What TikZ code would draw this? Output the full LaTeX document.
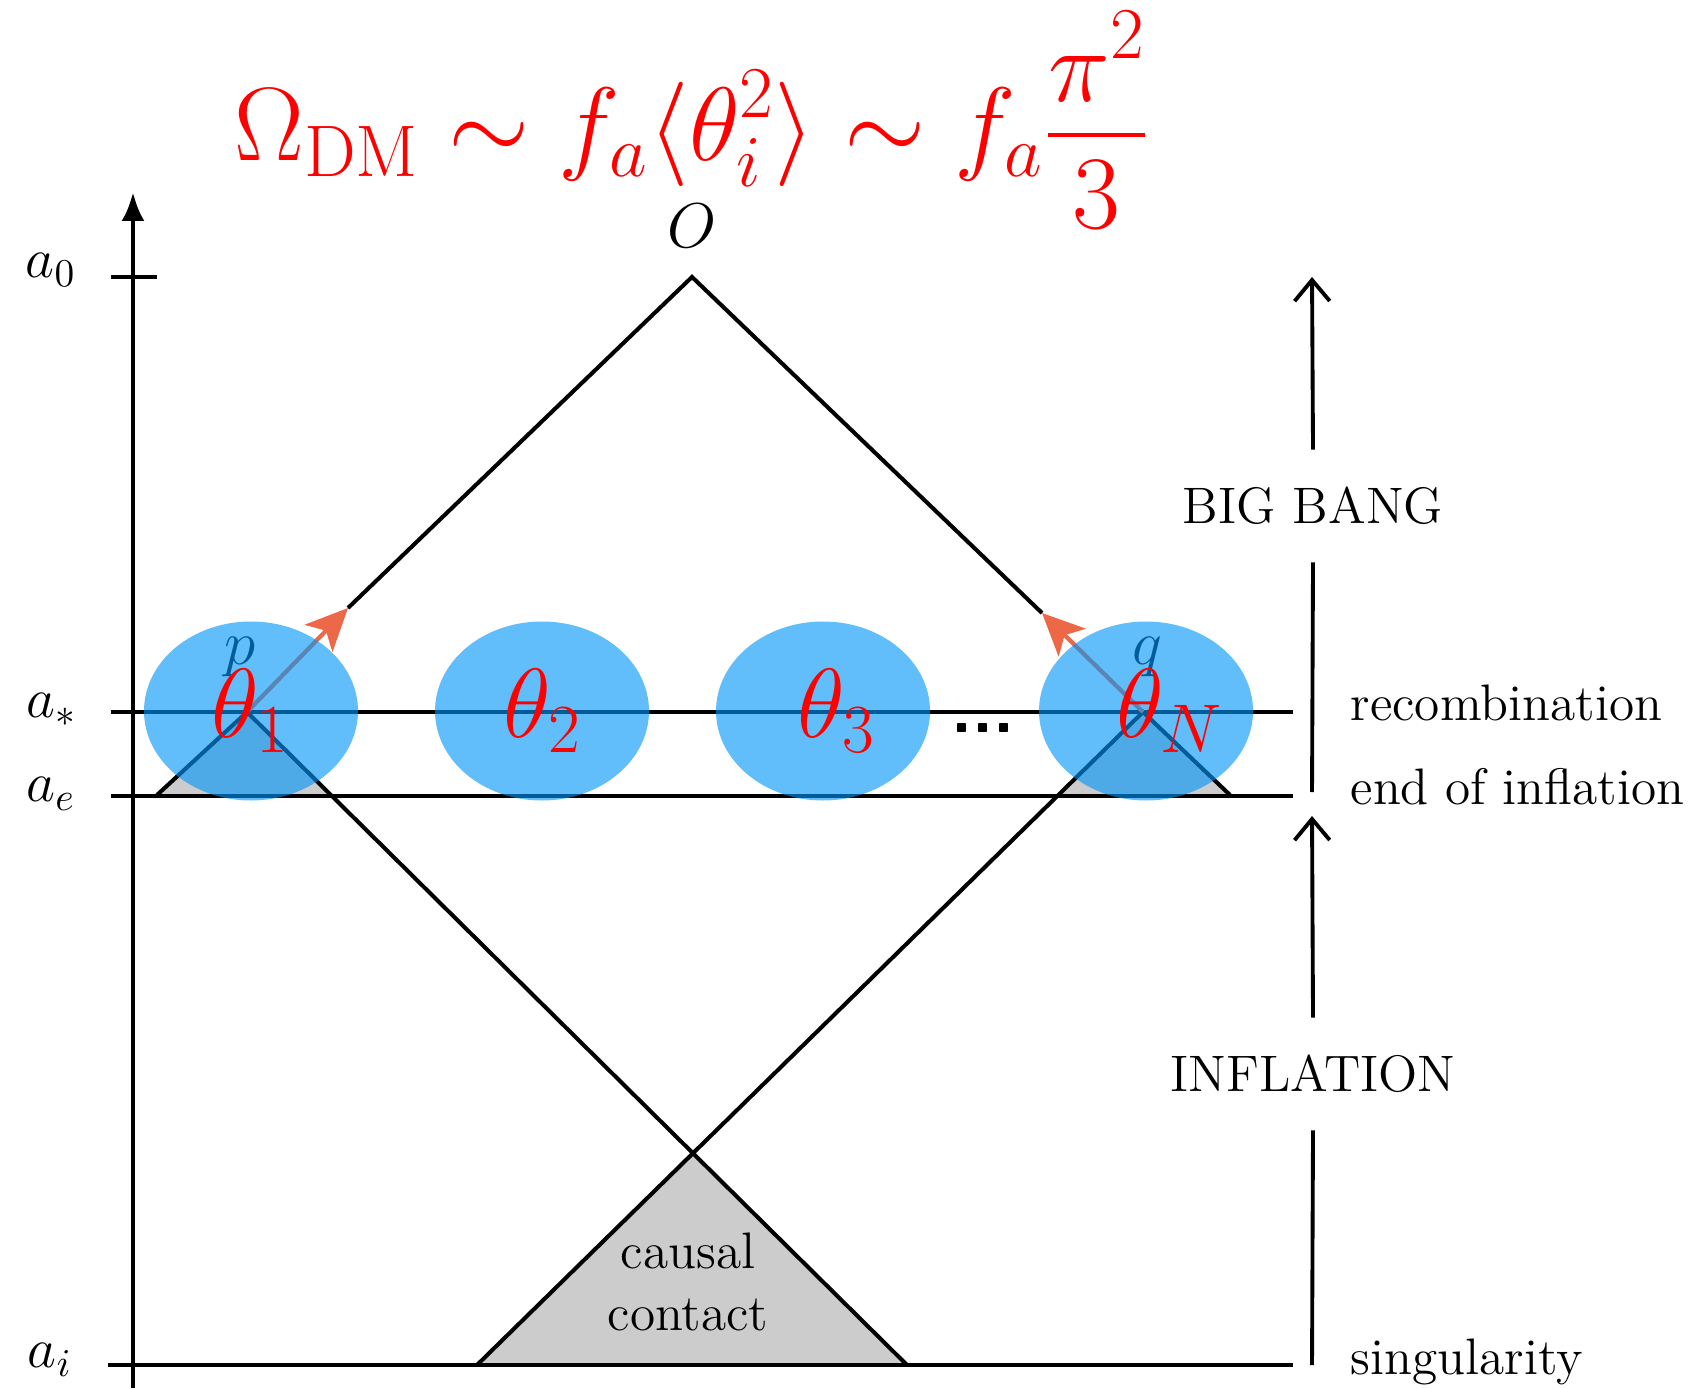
\RequirePackage{fix-cm}
\documentclass[tikz,border=0pt]{standalone}
\usepackage{exscale}
\usepackage{amsmath}
\usepackage{xcolor}
\usepackage{tikz}
\usetikzlibrary{arrows.meta,positioning,shapes.geometric}
\definecolor{patch}{RGB}{0,150,248}
\definecolor{photon}{RGB}{237,104,70}
\definecolor{conegray}{RGB}{204,204,204}

\begin{document}
\begin{tikzpicture}[x=0.1mm, y=-0.1mm,
  cone/.style={line width=1.15pt},
  level/.style={line width=1pt},
  axis/.style={line width=1.4pt},
  epoch/.style={line width=1.1pt},
  patchblob/.style={ellipse, fill=patch, fill opacity=0.62, minimum width=21.4mm, minimum height=17.9mm, inner sep=0pt},
  anglelabel/.style={text=red, font=\fontsize{28}{34}\selectfont},
  timelabel/.style={font=\fontsize{16}{19}\selectfont},
  eralabel/.style={font=\fontsize{14.6}{17}\selectfont, anchor=base west, inner sep=0pt},
  phase/.style={font=\fontsize{14.6}{17}\selectfont, inner xsep=2pt, inner ysep=10.5pt},
  photonarrow/.style={-{Stealth[length=12pt,width=11pt,inset=3pt]}, line width=1.2pt, draw=photon}
]
\useasboundingbox (0,0) rectangle (1694,1388);

% points of the diagram
\coordinate (O) at (692,277);
\coordinate (p) at (247,712);
\coordinate (q) at (1143,712);
\coordinate (ptip) at (348,608);
\coordinate (qtip) at (1042,613);
\coordinate (pl) at (157,795);
\coordinate (pr) at (331,795);
\coordinate (ql) at (1058,795);
\coordinate (qr) at (1230,795);
\coordinate (bl) at (477,1365);
\coordinate (br) at (907,1365);
\coordinate (apex) at (692,1151);

% shaded past cones
\fill[conegray] (pl) -- (p) -- (pr) -- cycle;
\fill[conegray] (ql) -- (q) -- (qr) -- cycle;
\fill[conegray] (bl) -- (apex) -- (br) -- cycle;

% time axis
\draw[axis, -{Latex[length=2.9mm,width=2.3mm]}] (133,1388) -- (133,192);
\draw[axis] (111,277) -- (157,277);
\node[timelabel] (a0) at (51,270) {$a_0$};
\node[timelabel] (astar) at (52,710) {$a_*$};
\node[timelabel] (ae) at (51,794) {$a_e$};
\node[timelabel] (ai) at (50,1360) {$a_i$};

% surfaces
\draw[level] (111,712) -- (1293,712);
\draw[level] (111,796) -- (1293,796);
\draw[level] (108,1365) -- (1293,1365);

% light cones
\draw[cone] (ptip) -- (O) -- (qtip);
\draw[cone] (pl) -- (p) -- (br);
\draw[cone] (qr) -- (q) -- (bl);
\draw[photonarrow] (p) -- (ptip);
\draw[photonarrow] (q) -- (qtip);
\node[font=\fontsize{18}{22}\selectfont] (Olabel) at (692,226) {$O$};
\node[font=\fontsize{18}{22}\selectfont] (plabel) at (240,657) {$p$};
\node[font=\fontsize{18}{22}\selectfont] (qlabel) at (1147,657) {$q$};
\node[font=\fontsize{14.6}{17.5}\selectfont, align=center] (contact) at (688,1282) {causal\\contact};

% causally disconnected patches
\node[patchblob] (patch1) at (251,711) {};
\node[patchblob] (patch2) at (542,711) {};
\node[patchblob] (patch3) at (823,711) {};
\node[patchblob] (patchN) at (1146,711) {};
\node[anglelabel] (theta1) at (251,711) {$\theta_1$};
\node[anglelabel] (theta2) at (543,711) {$\theta_2$};
\node[anglelabel] (theta3) at (837,711) {$\theta_3$};
\node[anglelabel] (thetaN) at (1170,711) {$\theta_N$};
\node[font=\fontsize{19.6}{22}\sffamily\bfseries\selectfont, inner sep=0pt] (dots) at (983,728) {...};

% epochs
\coordinate (top) at (1312,277);
\coordinate (mid) at (1312,792);
\coordinate (midtop) at (1312,816);
\coordinate (bottom) at (1312,1365);
\node[phase] (bigbang) at (1313,506) {BIG BANG};
\node[phase] (inflation) at (1313,1074) {INFLATION};
\draw[epoch] (mid) -- (bigbang.south);
\draw[epoch, -{Straight Barb[length=6pt,width=10pt]}] (bigbang.north) -- (top);
\draw[epoch] (bottom) -- (inflation.south);
\draw[epoch, -{Straight Barb[length=6pt,width=10pt]}] (inflation.north) -- (midtop);
\node[eralabel] (recomb) at (1350,720) {recombination};
\node[eralabel] (endinf) at (1350,804) {end of inflation};
\node[eralabel] (sing) at (1350,1374) {singularity};

% relic density
\node[text=red, font=\fontsize{29.7}{35}\selectfont, anchor=base, inner sep=0pt] (omega) at (692,161)
  {$\displaystyle \Omega_{\rm DM}\sim f_a\langle\theta_i^2\rangle\sim f_a
   \genfrac{}{}{1.2pt}{0}{\raisebox{-3.2pt}{$\displaystyle\pi^2$}}{\raisebox{1.3pt}{$3$}}$};
\end{tikzpicture}
\end{document}
